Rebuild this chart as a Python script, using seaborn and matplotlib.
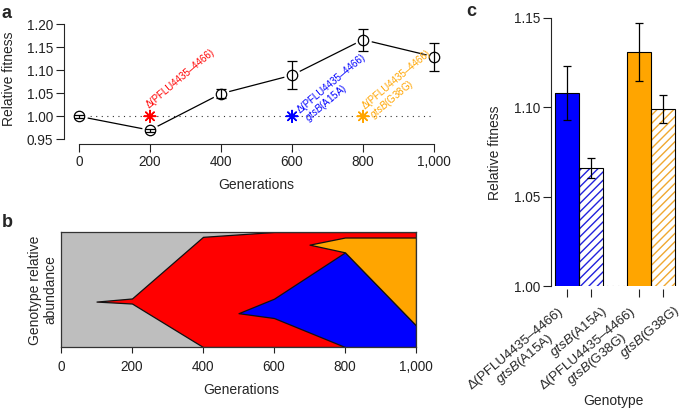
import numpy as np
import pandas as pd
import matplotlib
matplotlib.use("Agg")
import matplotlib.pyplot as plt
import seaborn as sns

# ---------------- data ----------------
# panel a: fitness trajectory
gens = [0, 200, 400, 600, 800, 1000]
fitness = [1.000, 0.970, 1.049, 1.089, 1.166, 1.129]
fitness_err = [0.003, 0.003, 0.010, 0.030, 0.024, 0.030]
gen_ticks = [0, 200, 400, 600, 800, 1000]
gen_labels = ["0", "200", "400", "600", "800", "1,000"]
fit_ticks = [0.95, 1.00, 1.05, 1.10, 1.15, 1.20]
fit_labels = ["0.95", "1.00", "1.05", "1.10", "1.15", "1.20"]

mut_gens = [200, 600, 800]
mut_fit = [1.0, 1.0, 1.0]
mut_names = ["red", "blue", "orange"]
mut_labels = ["Δ(PFLU4435–4466)",
              "Δ(PFLU4435–4466)\n$\\mathit{gtsB}$(A15A)",
              "Δ(PFLU4435–4466)\n$\\mathit{gtsB}$(G38G)"]
mut_colors = ["#FF0000", "#0000FF", "#FFA500"]
mut_offsets = [(-0.5, 5.5), (11.6, -4.3), (7.3, -1.9)]

# panel b: Muller plot (genotype frequency bands)
red_gen = [100, 200, 400, 600, 800, 1000]
red_lo = [0.395, 0.378, 0.0, 0.0, 0.0, 0.0]
red_hi = [0.395, 0.422, 0.958, 1.0, 1.0, 1.0]
blue_gen = [500, 600, 800, 1000]
blue_lo = [0.294, 0.252, 0.0, 0.0]
blue_hi = [0.294, 0.420, 0.823, 0.188]
orange_gen = [700, 800, 1000]
orange_lo = [0.890, 0.823, 0.188]
orange_hi = [0.890, 0.952, 0.952]

# panel c: genotype fitness
geno_pos = [0, 1, 3, 4]
geno_fit = [1.108, 1.066, 1.131, 1.099]
geno_err = [0.015, 0.0056, 0.0163, 0.008]
geno_labels = ["Δ(PFLU4435–4466)\n$\\mathit{gtsB}$(A15A)",
               "$\\mathit{gtsB}$(A15A)",
               "Δ(PFLU4435–4466)\n$\\mathit{gtsB}$(G38G)",
               "$\\mathit{gtsB}$(G38G)"]
geno_face = ["#0000FF", "white", "#FFA500", "white"]
geno_hatchcol = ["#0000FF", "#2222DD", "#FFA500", "#F0A830"]
geno_hatch = [None, "////", None, "////"]
c_ticks = [1.00, 1.05, 1.10, 1.15]
c_labels = ["1.00", "1.05", "1.10", "1.15"]

# ---------------- style ----------------
sns.set_style("ticks")
plt.rcParams["font.family"] = ["Liberation Sans", "DejaVu Sans"]
plt.rcParams["mathtext.fontset"] = "custom"
plt.rcParams["mathtext.rm"] = "Liberation Sans"
plt.rcParams["mathtext.it"] = "Liberation Sans:italic"
plt.rcParams["hatch.linewidth"] = 1.0
plt.rcParams["axes.linewidth"] = 0.8
plt.rcParams["xtick.major.width"] = 0.8
plt.rcParams["ytick.major.width"] = 0.8
plt.rcParams["xtick.color"] = "#222222"
plt.rcParams["ytick.color"] = "#222222"

W, H = 685, 411
fig = plt.figure(figsize=(6.85, 4.11), dpi=100)


def fa(left, top, right, bottom):
    return [left / W, 1 - bottom / H, (right - left) / W, (bottom - top) / H]


# ---------------- panel a ----------------
ax_a = fig.add_axes(fa(64, 19.4, 449, 144))
ax_a.set_xlim(-42, 1042)
ax_a.set_ylim(0.94, 1.21)
ax_a.hlines(1.0, 0, 1000, colors="#333333", linestyles=(0, (1, 4)), lw=0.8, zorder=1)
# connecting line with gaps around points (white masks)
sns.lineplot(x=gens, y=fitness, ax=ax_a, color="black", lw=0.9, marker="o",
             markersize=12, markerfacecolor="white", markeredgecolor="white",
             markeredgewidth=0, errorbar=None, zorder=2)
ax_a.errorbar(gens, fitness, yerr=fitness_err, fmt="none", ecolor="black",
              elinewidth=0.9, capsize=3.6, capthick=0.9, zorder=3)
sns.lineplot(x=gens, y=fitness, ax=ax_a, linestyle="none", marker="o",
             markersize=7.5, markerfacecolor="none", markeredgecolor="black",
             markeredgewidth=0.9, errorbar=None, zorder=4)
sns.scatterplot(x=mut_gens, y=mut_fit, hue=mut_names, palette=mut_colors,
                marker=(8, 2, 0), s=70, linewidth=1.1, ax=ax_a, legend=False, zorder=5)
for g, f, lab, c, off in zip(mut_gens, mut_fit, mut_labels, mut_colors, mut_offsets):
    ax_a.annotate(lab, xy=(g, f), xytext=off, textcoords="offset points",
                  rotation=40, rotation_mode="anchor", ha="left", va="baseline",
                  multialignment="left", color=c, fontsize=7.0, linespacing=1.0,
                  zorder=6)
ax_a.set_xticks(gen_ticks, gen_labels, fontsize=9.8)
ax_a.set_yticks(fit_ticks, fit_labels, fontsize=9.8)
ax_a.tick_params(length=5.5, pad=2.5)
sns.despine(ax=ax_a)
ax_a.spines["left"].set_bounds(0.95, 1.20)
ax_a.spines["bottom"].set_bounds(0, 1000)
ax_a.set_xlabel("Generations", fontsize=10)
ax_a.set_ylabel("Relative fitness", fontsize=10)
ax_a.yaxis.set_label_coords((16 - 64) / 385, (144 - 79) / 124.6)
ax_a.xaxis.set_label_coords((256.7 - 64) / 385, (144 - 178) / 124.6)

# ---------------- panel b ----------------
ax_b = fig.add_axes(fa(61, 232, 416, 347))
ax_b.set_facecolor("#BEBEBE")
ax_b.set_xlim(0, 1000)
ax_b.set_ylim(0, 1)
for gx, lo, hi, col in [(red_gen, red_lo, red_hi, "#FF0000"),
                        (blue_gen, blue_lo, blue_hi, "#0000FF"),
                        (orange_gen, orange_lo, orange_hi, "#FFA500")]:
    ax_b.fill_between(gx, lo, hi, facecolor=col, edgecolor="#111111", lw=0.9)
for s in ax_b.spines.values():
    s.set_visible(True)
    s.set_color("#333333")
    s.set_linewidth(0.9)
ax_b.set_yticks([])
ax_b.set_xticks(gen_ticks, gen_labels, fontsize=9.8)
ax_b.tick_params(axis="x", length=4.5, pad=5)
ax_b.set_xlabel("Generations", fontsize=10)
ax_b.set_ylabel("Genotype relative\nabundance", fontsize=10, linespacing=1.1)
ax_b.xaxis.set_label_coords((241.7 - 61) / 355, (347 - 383) / 115)
ax_b.yaxis.set_label_coords((57 - 61) / 355, (347 - 290) / 115)

# ---------------- panel c ----------------
ax_c = fig.add_axes(fa(551, 14.4, 677.4, 286))
ax_c.axhline(1.0, color="#333333", ls=(0, (1, 4)), lw=0.8, zorder=0.5)
sns.barplot(x=geno_pos, y=geno_fit, native_scale=True, width=1.0, color="white",
            errorbar=None, ax=ax_c, zorder=1)
for p, fc, hc, ht in zip(ax_c.patches, geno_face, geno_hatchcol, geno_hatch):
    p.set_facecolor(fc)
    p.set_edgecolor(hc)
    p.set_linewidth(0)
    if ht:
        p.set_hatch(ht)
sns.barplot(x=geno_pos, y=geno_fit, native_scale=True, width=1.0, fill=False,
            color="black", linewidth=0.8, errorbar=None, ax=ax_c, zorder=2)
ax_c.errorbar(geno_pos, geno_fit, yerr=geno_err, fmt="none", ecolor="black",
              elinewidth=0.9, capsize=2.8, capthick=0.9, zorder=3)
sns.despine(ax=ax_c)
ax_c.spines["left"].set_bounds(1.0, 1.15)
ax_c.spines["bottom"].set_position(("outward", 2))
ax_c.spines["bottom"].set_visible(False)
ax_c.set_xlim(-0.667, 4.6)
ax_c.set_ylim(1.0, 1.152)
ax_c.set_yticks(c_ticks, c_labels, fontsize=9.8)
ax_c.set_xticks(geno_pos, [""] * len(geno_pos))
ax_c.tick_params(length=5.5, pad=2.5)
for pos, lab in zip(geno_pos, geno_labels):
    two_lines = "\n" in lab
    off = (4.4, -26.4) if two_lines else (12.0, -18.4)
    ax_c.annotate(lab, xy=(pos, 0), xycoords=("data", "axes fraction"),
                  xytext=off, textcoords="offset points", rotation=40,
                  rotation_mode="anchor", ha="right", va="baseline",
                  multialignment="center", fontsize=9.7, linespacing=1.0,
                  annotation_clip=False)
ax_c.set_xlabel("Genotype", fontsize=10)
ax_c.set_ylabel("Relative fitness", fontsize=10)
ax_c.yaxis.set_label_coords((502 - 551) / 126.4, (286 - 153) / 271.6)
ax_c.xaxis.set_label_coords((613 - 551) / 126.4, (286 - 394) / 271.6)

# panel letters
fig.text(2 / W, 1 - 18 / H, "a", fontsize=13, fontweight="bold", va="baseline")
fig.text(2 / W, 1 - 227 / H, "b", fontsize=13, fontweight="bold", va="baseline")
fig.text(466 / W, 1 - 16 / H, "c", fontsize=13, fontweight="bold", va="baseline")

fig.savefig("out.png", dpi=100)
